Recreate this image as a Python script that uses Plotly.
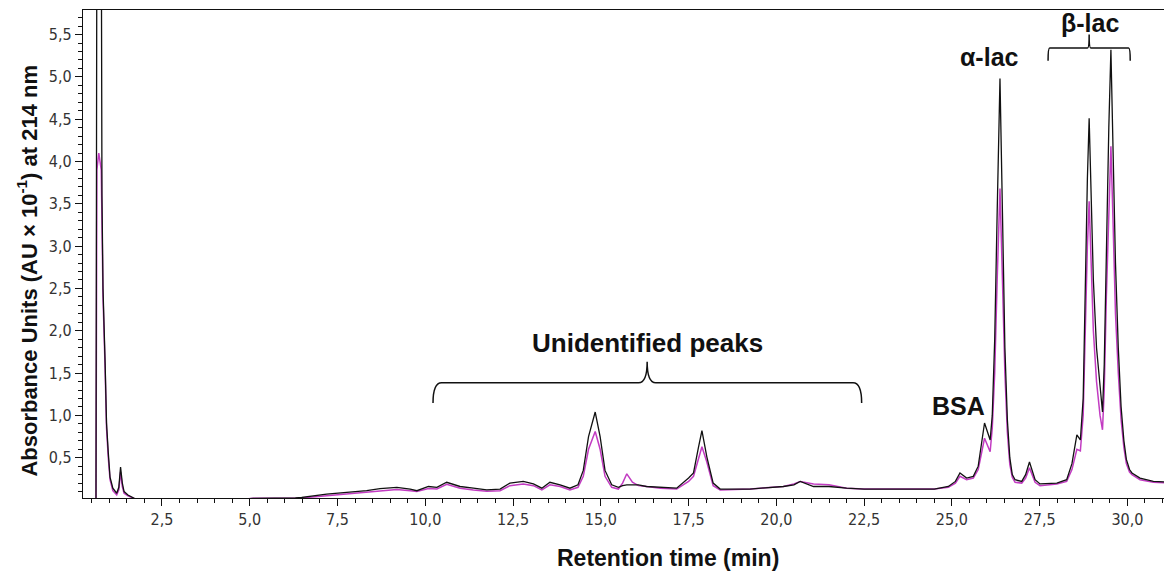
import plotly.graph_objects as go

# Retention time (min) sampling points
retention_time = [0.62, 0.645, 0.70, 0.77, 0.79, 0.82, 0.88, 0.92, 0.97, 1.02, 1.10, 1.21, 1.27, 1.32, 1.37, 1.42, 1.53, 1.67,
                  1.8, 3.0, 4.5, 5.1, 6.0, 6.3, 6.48, 7.19, 7.76, 8.33, 8.71, 9.19, 9.57, 9.76, 10.09, 10.33, 10.61, 10.99,
                  11.37, 11.75, 12.13, 12.41, 12.79, 13.08, 13.32, 13.55, 13.84, 14.12, 14.35, 14.5, 14.65, 14.84, 14.98,
                  15.12, 15.31, 15.5, 15.62, 15.74, 15.9, 16.07, 16.3, 16.7, 17.16, 17.5, 17.64, 17.78, 17.88, 18.02, 18.2,
                  18.4, 19.25, 20.2, 20.5, 20.68, 21.06, 21.5, 22.0, 22.5, 24.5, 24.9, 25.1, 25.23, 25.42, 25.61, 25.75,
                  25.93, 26.09, 26.15, 26.22, 26.29, 26.37, 26.44, 26.51, 26.58, 26.65, 26.72, 26.8, 26.99, 27.1, 27.21,
                  27.3, 27.37, 27.51, 27.99, 28.27, 28.42, 28.56, 28.66, 28.74, 28.8, 28.86, 28.91, 28.96, 29.03, 29.12,
                  29.22, 29.29, 29.34, 29.4, 29.47, 29.53, 29.59, 29.66, 29.74, 29.82, 29.9, 29.97, 30.06, 30.13, 30.36,
                  30.74, 31.3]

# Black trace (AU x 10^-1)
absorbance_black = [0.02, 7.0, 7.5, 7.0, 3.6, 2.5, 1.62, 0.91, 0.56, 0.27, 0.14, 0.08, 0.15, 0.39, 0.20, 0.10, 0.06, 0.03,
                    0.0, -0.01, 0.0, 0.02, 0.02, 0.025, 0.03, 0.07, 0.09, 0.11, 0.135, 0.15, 0.13, 0.11, 0.16, 0.15, 0.21, 0.16,
                    0.14, 0.12, 0.13, 0.20, 0.22, 0.19, 0.14, 0.21, 0.18, 0.14, 0.18, 0.35, 0.75, 1.04, 0.75,
                    0.35, 0.18, 0.15, 0.17, 0.18, 0.18, 0.18, 0.16, 0.15, 0.14, 0.26, 0.32, 0.62, 0.82, 0.51, 0.20,
                    0.13, 0.13, 0.16, 0.18, 0.22, 0.16, 0.16, 0.14, 0.13, 0.13, 0.16, 0.22, 0.32, 0.26, 0.28, 0.40,
                    0.91, 0.71, 1.0, 1.9, 3.4, 4.98, 3.4, 1.8, 0.95, 0.5, 0.30, 0.24, 0.22, 0.30, 0.45,
                    0.32, 0.24, 0.19, 0.20, 0.24, 0.43, 0.77, 0.71, 1.2, 2.6, 3.8, 4.51, 3.7, 2.6, 1.8,
                    1.3, 1.04, 1.6, 3.0, 4.4, 5.32, 4.2, 2.8, 1.8, 1.1, 0.7, 0.48, 0.36, 0.32, 0.26,
                    0.22, 0.21]

# Magenta trace (AU x 10^-1)
absorbance_magenta = [0.02, 3.9, 4.1, 3.9, 3.3, 2.4, 1.55, 0.85, 0.50, 0.24, 0.11, 0.06, 0.12, 0.33, 0.16, 0.08, 0.05, 0.02,
                      0.0, -0.01, 0.0, 0.02, 0.025, 0.025, 0.025, 0.05, 0.07, 0.09, 0.11, 0.125, 0.11, 0.10, 0.135, 0.13, 0.185, 0.14,
                      0.12, 0.105, 0.11, 0.17, 0.19, 0.17, 0.12, 0.18, 0.16, 0.12, 0.15, 0.28, 0.60, 0.81, 0.60,
                      0.28, 0.15, 0.13, 0.20, 0.31, 0.21, 0.17, 0.16, 0.14, 0.13, 0.22, 0.28, 0.50, 0.63, 0.45, 0.17,
                      0.12, 0.13, 0.16, 0.19, 0.22, 0.19, 0.18, 0.14, 0.13, 0.13, 0.15, 0.20, 0.28, 0.24, 0.26, 0.36,
                      0.73, 0.57, 0.85, 1.5, 2.6, 3.68, 2.6, 1.5, 0.8, 0.42, 0.27, 0.21, 0.20, 0.26, 0.38,
                      0.28, 0.21, 0.17, 0.19, 0.22, 0.36, 0.60, 0.58, 1.0, 2.1, 3.0, 3.53, 2.9, 2.0, 1.4,
                      1.0, 0.83, 1.3, 2.4, 3.4, 4.18, 3.3, 2.2, 1.5, 0.95, 0.62, 0.43, 0.33, 0.30, 0.24,
                      0.21, 0.20]

x_title = "Retention time (min)"
y_title = "Absorbance Units (AU × 10<sup>-1</sup>) at 214 nm"

# Peak labels: text, x (min), y (AU x 10^-1)
peak_labels = ["Unidentified peaks", "BSA", "α-lac", "β-lac"]
peak_label_x = [16.32, 25.18, 26.06, 28.94]
peak_label_y = [1.86, 1.11, 5.24, 5.64]

# Brackets: left, centre, right (min); arm end y, bar y, tip y
bracket_left = [10.22, 27.74]
bracket_center = [16.32, 28.91]
bracket_right = [22.43, 30.08]
bracket_end_y = [1.147, 5.19]
bracket_bar_y = [1.387, 5.34]
bracket_tip_y = [1.635, 5.50]

fig = go.Figure()
fig.add_trace(go.Scatter(x=retention_time, y=absorbance_magenta, mode="lines",
                         line=dict(color="#c23bc2", width=1.5), name="magenta", showlegend=False))
fig.add_trace(go.Scatter(x=retention_time, y=absorbance_black, mode="lines",
                         line=dict(color="#111111", width=1.3), name="black", showlegend=False))

label_sizes = [26, 25, 25, 25]
for txt, xv, yv, fs in zip(peak_labels, peak_label_x, peak_label_y, label_sizes):
    fig.add_annotation(x=xv, y=yv, xref="x", yref="y", text="<b>" + txt + "</b>", showarrow=False,
                       xanchor="center", yanchor="middle",
                       font=dict(family="Arial, Liberation Sans, sans-serif", size=fs, color="#111111"))

for l, c, r, ye, yb, yt in zip(bracket_left, bracket_center, bracket_right, bracket_end_y, bracket_bar_y, bracket_tip_y):
    dx = (r - l) * 0.02
    path = (f"M {l},{ye} Q {l},{yb} {l+dx},{yb} L {c-dx},{yb} Q {c},{yb} {c},{yt} "
            f"Q {c},{yb} {c+dx},{yb} L {r-dx},{yb} Q {r},{yb} {r},{ye}")
    fig.add_shape(type="path", path=path, xref="x", yref="y", line=dict(color="#111111", width=1.5))

fig.add_annotation(x=0.537, y=-0.123, xref="paper", yref="paper", text="<b>" + x_title + "</b>", showarrow=False,
                   xanchor="center", yanchor="middle",
                   font=dict(family="Arial, Liberation Sans, sans-serif", size=23, color="#111111"))
fig.add_annotation(x=-0.0514, y=0.466, xref="paper", yref="paper", text="<b>" + y_title + "</b>", showarrow=False,
                   xanchor="center", yanchor="middle", textangle=-90,
                   font=dict(family="Arial, Liberation Sans, sans-serif", size=22, color="#111111"))

tick_font = dict(family="Liberation Sans Narrow, Arial Narrow, DejaVu Sans Condensed, Arial, sans-serif",
                 size=16, color="#333333")

fig.update_layout(
    width=1164, height=567,
    margin=dict(l=75, r=0, t=2, b=77),
    paper_bgcolor="white", plot_bgcolor="white",
    separators=",.",
    xaxis=dict(range=[0.25, 31.27], dtick=2.5, tick0=0, tickformat=".1f", showgrid=False, zeroline=False,
               showline=True, linecolor="#111111", linewidth=1.2, mirror=True,
               ticks="outside", ticklen=7, tickcolor="#111111", tickfont=tick_font,
               minor=dict(dtick=0.5, ticks="outside", ticklen=4, tickcolor="#111111")),
    yaxis=dict(range=[0.024, 5.79], dtick=0.5, tick0=0, tickformat=".1f", showgrid=False, zeroline=False,
               showline=True, linecolor="#111111", linewidth=1.2,
               ticks="outside", ticklen=7, tickcolor="#111111", tickfont=tick_font,
               minor=dict(dtick=0.1, ticks="outside", ticklen=4, tickcolor="#111111")),
)

fig.write_html("out.html")
